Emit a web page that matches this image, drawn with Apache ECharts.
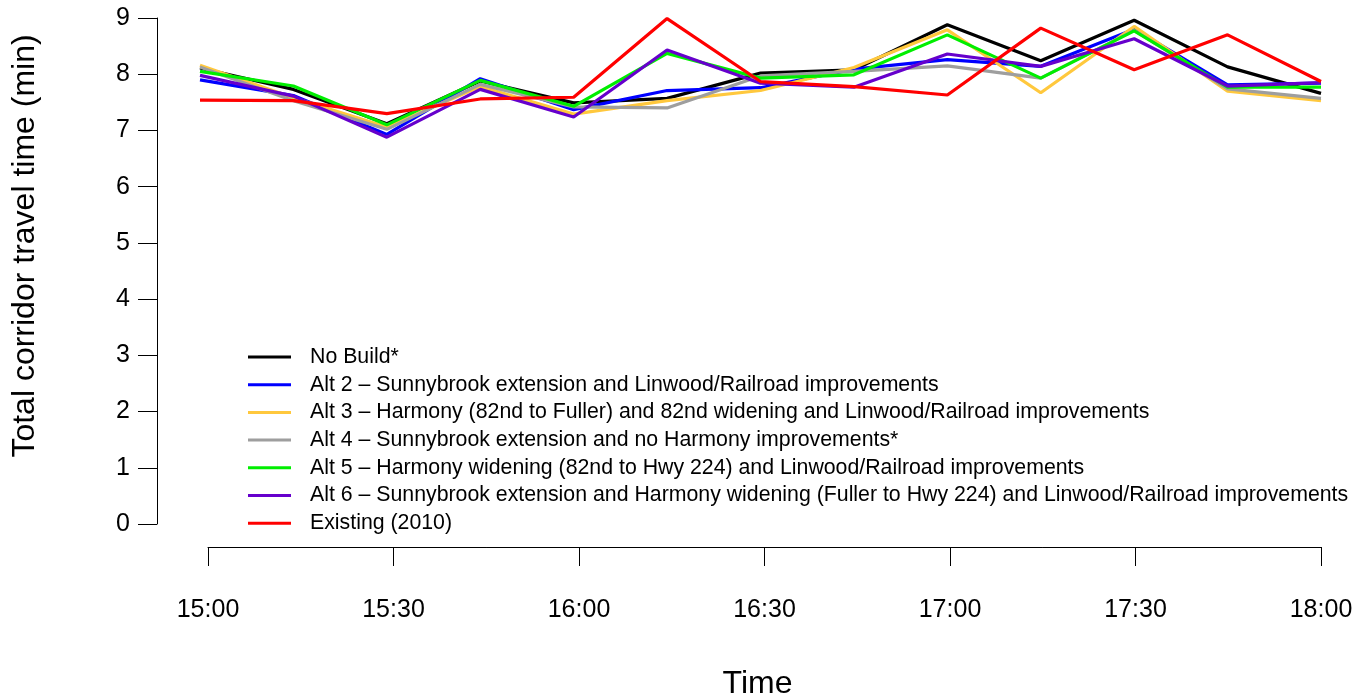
<!DOCTYPE html>
<html>
<head>
<meta charset="utf-8">
<script src="https://cdn.jsdelivr.net/npm/echarts@6/dist/echarts.min.js"></script>
<style>
  html, body { margin: 0; padding: 0; background: #ffffff; }
  #chart { width: 1367px; height: 698px; }
</style>
</head>
<body>
<div id="chart"></div>
<script>
// Sample times (15-minute intervals) and the labelled axis ticks
const times = ['15:00','15:15','15:30','15:45','16:00','16:15','16:30','16:45','17:00','17:15','17:30','17:45','18:00'];
const tickLabels = ['15:00','15:30','16:00','16:30','17:00','17:30','18:00'];

// Total corridor travel time (min) per scenario
const noBuild  = [8.11, 7.73, 7.12, 7.88, 7.49, 7.57, 8.02, 8.08, 8.88, 8.24, 8.96, 8.13, 7.66];
const alt2     = [7.90, 7.62, 6.93, 7.92, 7.37, 7.71, 7.76, 8.09, 8.26, 8.14, 8.80, 7.81, 7.84];
const alt3     = [8.16, 7.58, 7.06, 7.78, 7.29, 7.53, 7.71, 8.12, 8.79, 7.67, 8.85, 7.70, 7.53];
const alt4     = [8.13, 7.53, 7.02, 7.82, 7.42, 7.40, 7.97, 8.05, 8.15, 7.93, 8.78, 7.74, 7.57];
const alt5     = [8.05, 7.79, 7.10, 7.89, 7.43, 8.37, 7.93, 7.99, 8.70, 7.93, 8.77, 7.77, 7.77];
const alt6     = [7.98, 7.61, 6.88, 7.73, 7.24, 8.43, 7.84, 7.77, 8.36, 8.14, 8.63, 7.79, 7.85];
const existing = [7.54, 7.53, 7.30, 7.56, 7.59, 8.99, 7.87, 7.78, 7.63, 8.82, 8.08, 8.70, 7.87];

const seriesNames = [
  'No Build*',
  'Alt 2 \u2013 Sunnybrook extension and Linwood/Railroad improvements',
  'Alt 3 \u2013 Harmony (82nd to Fuller) and 82nd widening and Linwood/Railroad improvements',
  'Alt 4 \u2013 Sunnybrook extension and no Harmony improvements*',
  'Alt 5 \u2013 Harmony widening (82nd to Hwy 224) and Linwood/Railroad improvements',
  'Alt 6 \u2013 Sunnybrook extension and Harmony widening (Fuller to Hwy 224) and Linwood/Railroad improvements',
  'Existing (2010)'
];
const seriesData = [noBuild, alt2, alt3, alt4, alt5, alt6, existing];
const colors = ['#000000', '#0000ff', '#ffc83d', '#9e9e9e', '#00ee00', '#6600cc', '#ff0000'];

const yTitle = 'Total corridor travel time (min)';
const xTitle = 'Time';

const FONT = '"Liberation Sans", Arial, Helvetica, sans-serif';

const chart = echarts.init(document.getElementById('chart'), null, { renderer: 'canvas' });

chart.setOption({
  backgroundColor: '#ffffff',
  animation: false,
  textStyle: { fontFamily: FONT, color: '#000' },
  grid: [
    // grid 0 holds the series
    { left: 200, right: 46, top: 18, bottom: 174, outerBoundsMode: 'none', containLabel: false },
    // grid 1 carries the labelled time axis
    { left: 208, right: 46, top: 18, bottom: 174, outerBoundsMode: 'none', containLabel: false }
  ],
  // vertical axis title, centred on the plotting region
  graphic: [
    {
      type: 'text',
      x: 25,
      y: 246,
      rotation: Math.PI / 2,
      style: {
        text: yTitle,
        font: '32px ' + FONT,
        fill: '#000',
        align: 'center',
        verticalAlign: 'middle'
      }
    }
  ],
  legend: {
    orient: 'vertical',
    left: 248,
    top: 346,
    padding: 0,
    itemWidth: 43,
    itemHeight: 3,
    itemGap: 5.7,
    icon: 'rect',
    textStyle: {
      fontFamily: FONT,
      fontSize: 21.3,
      color: '#000',
      lineHeight: 22,
      padding: [0, 0, 0, 14]
    },
    data: seriesNames
  },
  xAxis: [
    {
      type: 'category',
      gridIndex: 0,
      data: times,
      boundaryGap: false,
      show: false
    },
    {
      type: 'category',
      gridIndex: 1,
      data: tickLabels,
      boundaryGap: false,
      position: 'bottom',
      offset: 23,
      name: xTitle,
      nameLocation: 'middle',
      nameGap: 121,
      nameTextStyle: { fontFamily: FONT, fontSize: 32, color: '#000', padding: [0, 14, 0, 0] },
      axisLine: { show: true, onZero: false, lineStyle: { color: '#000', width: 1 } },
      axisTick: { show: true, length: 19, alignWithLabel: true, lineStyle: { color: '#000', width: 1 } },
      axisLabel: { fontFamily: FONT, fontSize: 25, color: '#000', margin: 51, interval: 0 },
      splitLine: { show: false }
    }
  ],
  yAxis: [
    {
      type: 'value',
      gridIndex: 0,
      min: 0,
      max: 9,
      interval: 1,
      offset: 43,
      axisLine: { show: true, onZero: false, lineStyle: { color: '#000', width: 1 } },
      axisTick: { show: true, length: 19, lineStyle: { color: '#000', width: 1 } },
      axisLabel: { fontFamily: FONT, fontSize: 25, color: '#000', margin: 27 },
      splitLine: { show: false }
    },
    {
      type: 'value',
      gridIndex: 1,
      min: 0,
      max: 9,
      show: false
    }
  ],
  series: seriesData.map((d, i) => ({
    name: seriesNames[i],
    type: 'line',
    xAxisIndex: 0,
    yAxisIndex: 0,
    data: d,
    symbol: 'none',
    showSymbol: false,
    lineStyle: { color: colors[i], width: 3.2 },
    itemStyle: { color: colors[i] },
    emphasis: { disabled: true },
    z: 2 + i
  }))
});
</script>
</body>
</html>
